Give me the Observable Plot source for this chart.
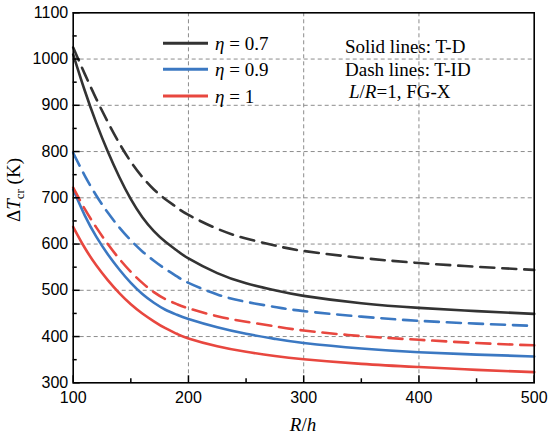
<!DOCTYPE html>
<html>
<head>
<meta charset="utf-8">
<script src="https://cdn.jsdelivr.net/npm/d3@7"></script>
<script src="https://cdn.jsdelivr.net/npm/@observablehq/plot@0.6"></script>
<style>
  body { margin: 0; background: white; }
</style>
</head>
<body>
<div id="chart"></div>
<script>
// R/h sample positions
const rh = [100, 110, 120, 130, 140, 150, 160, 170, 180, 190, 200, 225, 250, 275, 300, 350, 400, 450, 500];

// ΔTcr (K)
const eta07_TD  = [1010, 932, 862, 800, 745, 697, 658, 628, 605, 586, 569, 537, 515, 500, 488, 472, 462, 455, 449];
const eta07_TID = [1025, 968, 914, 864, 818, 778, 745, 718, 697, 679, 663, 633, 612, 597, 585, 570, 559, 551, 544];
const eta09_TD  = [718, 662, 616, 578, 545, 516, 492, 473, 458, 447, 438, 420, 406, 395, 386, 374, 366, 361, 357];
const eta09_TID = [797, 748, 705, 668, 636, 608, 584, 564, 546, 530, 516, 491, 475, 464, 455, 443, 434, 428, 423];
const eta1_TD   = [637, 592, 554, 522, 494, 470, 450, 433, 418, 406, 396, 379, 367, 358, 351, 341, 334, 328, 323];
const eta1_TID  = [722, 676, 636, 600, 568, 540, 516, 496, 481, 470, 461, 444, 432, 422, 413, 401, 393, 386, 381];

const etaLabels = ["0.7", "0.9", "1"];
const colors = ["#333333", "#3b78c2", "#e8473f"];

const xTicks = [100, 200, 300, 400, 500];
const xMinor = [150, 250, 350, 450];
const yTicks = [300, 400, 500, 600, 700, 800, 900, 1000, 1100];
const yMinor = [350, 450, 550, 650, 750, 850, 950, 1050];

const seriesList = [
  {eta: "0.7", type: "T-D",  vals: eta07_TD},
  {eta: "0.7", type: "T-ID", vals: eta07_TID},
  {eta: "0.9", type: "T-D",  vals: eta09_TD},
  {eta: "0.9", type: "T-ID", vals: eta09_TID},
  {eta: "1",   type: "T-D",  vals: eta1_TD},
  {eta: "1",   type: "T-ID", vals: eta1_TID}
];
const rows = seriesList.flatMap(s => s.vals.map((v, i) => ({x: rh[i], y: v, eta: s.eta, type: s.type, key: s.eta + s.type})));

const W = 550, H = 436;
const mL = 72.7, mR = 16.3, mT = 12.3, mB = 53.7;

const plot = Plot.plot({
  width: W, height: H,
  marginLeft: mL, marginRight: mR, marginTop: mT, marginBottom: mB,
  x: {domain: [100, 500]},
  y: {domain: [300, 1100]},
  color: {domain: etaLabels, range: colors},
  style: {fontFamily: "'Liberation Sans', Arial, sans-serif", fontSize: "16px", background: "white", color: "black"},
  marks: [
    Plot.gridX([200, 300, 400], {stroke: "#8c8c8c", strokeOpacity: 1, strokeDasharray: "4,3", strokeWidth: 1}),
    Plot.gridY([400, 500, 600, 700, 800, 900, 1000], {stroke: "#8c8c8c", strokeOpacity: 1, strokeDasharray: "4,3", strokeWidth: 1}),
    Plot.line(rows.filter(d => d.type === "T-D"), {x: "x", y: "y", z: "key", stroke: "eta", strokeWidth: 2.6, curve: "natural"}),
    Plot.line(rows.filter(d => d.type === "T-ID"), {x: "x", y: "y", z: "key", stroke: "eta", strokeWidth: 2.6, strokeDasharray: "14,8", curve: "natural"}),
    Plot.frame({stroke: "black", strokeWidth: 1.6}),
    Plot.axisX(xTicks, {tickSize: -7, strokeWidth: 1.5, text: null, label: null}),
    Plot.axisX(xMinor, {tickSize: -4, strokeWidth: 1.5, text: null, label: null}),
    Plot.axisX(xTicks, {tickSize: 0, tickPadding: 9, fontSize: 16, fill: "black", label: null, tickFormat: d => String(d)}),
    Plot.axisY(yTicks, {tickSize: -7, strokeWidth: 1.5, text: null, label: null}),
    Plot.axisY(yMinor, {tickSize: -4, strokeWidth: 1.5, text: null, label: null}),
    Plot.axisY(yTicks, {tickSize: 0, tickPadding: 5, fontSize: 16, fill: "black", label: null, tickFormat: d => String(d)})
  ]
});
document.getElementById("chart").appendChild(plot);

const svg = d3.select(plot);
const serif = "'Liberation Serif', 'Times New Roman', serif";

// Legend
etaLabels.forEach((lab, i) => {
  const yy = [43.3, 69.3, 96][i];
  svg.append("line").attr("x1", 163).attr("x2", 208).attr("y1", yy).attr("y2", yy)
    .attr("stroke", colors[i]).attr("stroke-width", 3);
  const t = svg.append("text").attr("x", 215).attr("y", yy + 6.5).attr("text-anchor", "start")
    .attr("font-family", serif).attr("font-size", 19).attr("fill", "black");
  t.append("tspan").attr("font-style", "italic").text("η");
  t.append("tspan").text(" = " + lab);
});

// Annotation
const ann = svg.append("g").attr("font-family", serif).attr("font-size", 19).attr("fill", "black").attr("text-anchor", "start");
ann.append("text").attr("x", 345).attr("y", 52.5).text("Solid lines: T-D");
ann.append("text").attr("x", 345).attr("y", 76).text("Dash lines: T-ID");
const a3 = ann.append("text").attr("x", 349).attr("y", 97.5);
a3.append("tspan").attr("font-style", "italic").text("L");
a3.append("tspan").text("/");
a3.append("tspan").attr("font-style", "italic").text("R");
a3.append("tspan").text("=1, FG-X");

// X label
const xl = svg.append("text").attr("x", 303).attr("y", 431).attr("text-anchor", "middle")
  .attr("font-family", serif).attr("font-size", 19).attr("fill", "black");
xl.append("tspan").attr("font-style", "italic").text("R");
xl.append("tspan").text("/");
xl.append("tspan").attr("font-style", "italic").text("h");

// Y label
const yl = svg.append("text").attr("transform", "translate(20,190) rotate(-90)").attr("text-anchor", "middle")
  .attr("font-family", serif).attr("font-size", 19).attr("fill", "black");
yl.append("tspan").text("Δ");
yl.append("tspan").attr("font-style", "italic").text("T");
yl.append("tspan").attr("font-size", 13).attr("dy", 4).text("cr");
yl.append("tspan").attr("dy", -4).text(" (K)");
</script>
</body>
</html>
